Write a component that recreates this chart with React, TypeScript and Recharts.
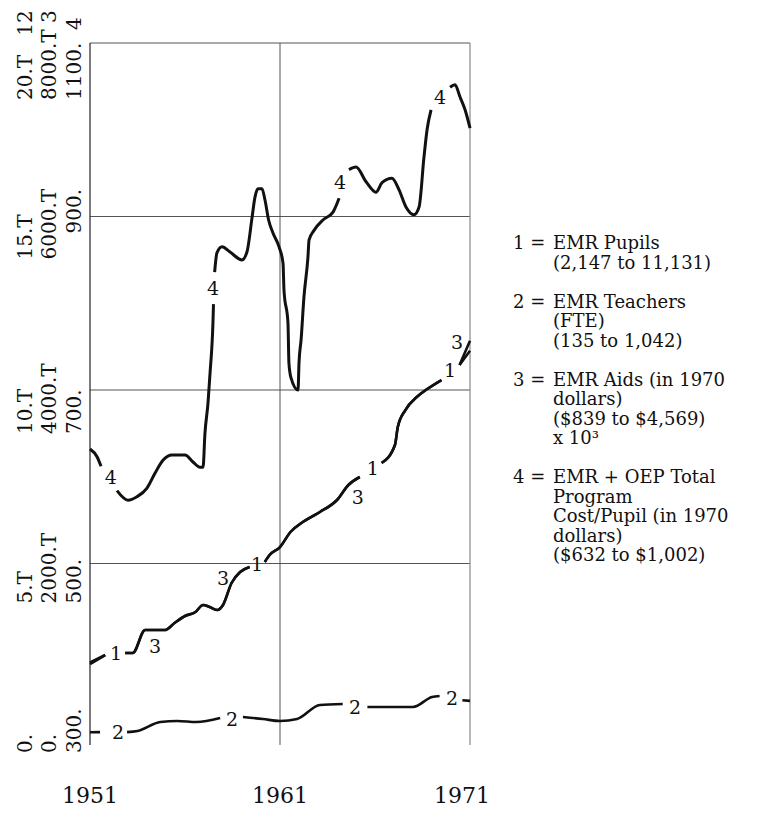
import React from "react";
import {
  ComposedChart,
  Line,
  XAxis,
  YAxis,
  ReferenceLine,
  Scatter,
} from "recharts";

const FONT = "'DejaVu Serif', 'Liberation Serif', serif";

// x axis
const yearTicks = [1951, 1961, 1971];

// left scale: one column of labels per series group
const pupilTicks = [0, 5000, 10000, 15000, 20000];
const pupilTickLabels = ["0.", "5.T", "10.T", "15.T", "20.T   12"];
const aidTickLabels = ["0.", "2000.T", "4000.T", "6000.T", "8000.T 3"];
const costTickLabels = ["300.", "500.", "700.", "900.", "1100.  4"];

// 1 = EMR pupils (nulls leave room for the "1" markers)
const pupils = [
  { year: 1951, value: 2147 },
  { year: 1951.8, value: 2363 },
  { year: 1952.4, value: null },
  { year: 1952.85, value: 2421 },
  { year: 1953.25, value: 2421 },
  { year: 1953.9, value: 3084 },
  { year: 1954.95, value: 3084 },
  { year: 1955.45, value: 3285 },
  { year: 1956.0, value: 3487 },
  { year: 1956.55, value: 3602 },
  { year: 1956.95, value: 3804 },
  { year: 1957.3, value: 3746 },
  { year: 1957.7, value: 3660 },
  { year: 1958.0, value: 3804 },
  { year: 1958.45, value: 4438 },
  { year: 1958.9, value: 4755 },
  { year: 1959.4, value: 4899 },
  { year: 1959.8, value: null },
  { year: 1960.2, value: 5043 },
  { year: 1960.45, value: 5245 },
  { year: 1961.0, value: 5475 },
  { year: 1961.55, value: 5908 },
  { year: 1962.2, value: 6196 },
  { year: 1963.1, value: 6484 },
  { year: 1964.0, value: 6830 },
  { year: 1964.6, value: 7262 },
  { year: 1965.2, value: 7493 },
  { year: 1965.85, value: null },
  { year: 1966.35, value: 7896 },
  { year: 1967.05, value: 8415 },
  { year: 1967.2, value: 8934 },
  { year: 1967.6, value: 9423 },
  { year: 1968.2, value: 9798 },
  { year: 1968.75, value: 10029 },
  { year: 1969.5, value: 10288 },
  { year: 1969.95, value: null },
  { year: 1970.45, value: 10720 },
  { year: 1971, value: 11131 },
];

// 2 = EMR teachers (FTE)
const teachers = [
  { year: 1951, value: 135 },
  { year: 1951.53, value: 140 },
  { year: 1952.45, value: null },
  { year: 1952.95, value: 140 },
  { year: 1953.5, value: 173 },
  { year: 1954.7, value: 432 },
  { year: 1955.6, value: 461 },
  { year: 1956.6, value: 432 },
  { year: 1957.85, value: 548 },
  { year: 1958.45, value: null },
  { year: 1959.05, value: 576 },
  { year: 1960.1, value: 519 },
  { year: 1961.0, value: 461 },
  { year: 1961.9, value: 519 },
  { year: 1963.1, value: 922 },
  { year: 1964.3, value: 951 },
  { year: 1964.95, value: null },
  { year: 1965.6, value: 865 },
  { year: 1968.0, value: 865 },
  { year: 1969.0, value: 1153 },
  { year: 1969.4, value: 1182 },
  { year: 1970.05, value: null },
  { year: 1970.6, value: 1060 },
  { year: 1971, value: 1042 },
];

// 3 = EMR aids, thousands of 1970 dollars
const aids = [
  { year: 1951, value: 839 },
  { year: 1951.8, value: 945 },
  { year: 1952.4, value: null },
  { year: 1952.85, value: 968 },
  { year: 1953.25, value: 968 },
  { year: 1953.9, value: 1233 },
  { year: 1954.95, value: 1233 },
  { year: 1955.45, value: 1314 },
  { year: 1956.0, value: 1395 },
  { year: 1956.55, value: 1441 },
  { year: 1956.95, value: 1522 },
  { year: 1957.3, value: 1499 },
  { year: 1957.7, value: 1464 },
  { year: 1958.0, value: 1522 },
  { year: 1958.45, value: 1775 },
  { year: 1958.9, value: 1902 },
  { year: 1959.4, value: 1960 },
  { year: 1959.8, value: null },
  { year: 1960.2, value: 2017 },
  { year: 1960.45, value: 2098 },
  { year: 1961.0, value: 2190 },
  { year: 1961.55, value: 2363 },
  { year: 1962.2, value: 2478 },
  { year: 1963.1, value: 2594 },
  { year: 1964.0, value: 2732 },
  { year: 1964.6, value: 2905 },
  { year: 1965.2, value: 2997 },
  { year: 1965.85, value: null },
  { year: 1966.35, value: 3158 },
  { year: 1967.05, value: 3366 },
  { year: 1967.2, value: 3573 },
  { year: 1967.6, value: 3769 },
  { year: 1968.2, value: 3919 },
  { year: 1968.75, value: 4011 },
  { year: 1969.5, value: 4115 },
  { year: 1969.95, value: null },
  { year: 1970.45, value: 4288 },
  { year: 1971, value: 4569 },
];

// 4 = EMR + OEP total program cost per pupil, 1970 dollars
const costPerPupil = [
  { year: 1951, value: 632 },
  { year: 1951.37, value: 623 },
  { year: 1951.58, value: 612 },
  { year: 1952.1, value: null },
  { year: 1952.42, value: 584 },
  { year: 1953.0, value: 573 },
  { year: 1953.47, value: 577 },
  { year: 1954.0, value: 587 },
  { year: 1954.42, value: 604 },
  { year: 1954.84, value: 619 },
  { year: 1955.32, value: 625 },
  { year: 1956.0, value: 625 },
  { year: 1956.42, value: 617 },
  { year: 1956.79, value: 611 },
  { year: 1956.95, value: 611 },
  { year: 1957.05, value: 650 },
  { year: 1957.21, value: 685 },
  { year: 1957.32, value: 720 },
  { year: 1957.47, value: 777 },
  { year: 1957.5, value: 799 },
  { year: 1957.53, value: null },
  { year: 1957.56, value: 836 },
  { year: 1957.68, value: 858 },
  { year: 1957.95, value: 865 },
  { year: 1958.37, value: 859 },
  { year: 1959.0, value: 850 },
  { year: 1959.26, value: 859 },
  { year: 1959.53, value: 899 },
  { year: 1959.68, value: 922 },
  { year: 1959.84, value: 932 },
  { year: 1960.05, value: 932 },
  { year: 1960.21, value: 919 },
  { year: 1960.4, value: 896 },
  { year: 1960.63, value: 881 },
  { year: 1960.95, value: 865 },
  { year: 1961.16, value: 846 },
  { year: 1961.21, value: 815 },
  { year: 1961.42, value: 777 },
  { year: 1961.47, value: 731 },
  { year: 1961.58, value: 714 },
  { year: 1961.95, value: 700 },
  { year: 1962.0, value: 731 },
  { year: 1962.11, value: 758 },
  { year: 1962.26, value: 807 },
  { year: 1962.47, value: 853 },
  { year: 1962.53, value: 873 },
  { year: 1962.79, value: 884 },
  { year: 1963.26, value: 896 },
  { year: 1963.79, value: 905 },
  { year: 1964.11, value: 921 },
  { year: 1964.2, value: null },
  { year: 1964.63, value: 954 },
  { year: 1965.0, value: 957 },
  { year: 1965.53, value: 940 },
  { year: 1966.05, value: 928 },
  { year: 1966.37, value: 939 },
  { year: 1966.89, value: 944 },
  { year: 1967.26, value: 931 },
  { year: 1967.63, value: 911 },
  { year: 1968.05, value: 902 },
  { year: 1968.32, value: 911 },
  { year: 1968.58, value: 969 },
  { year: 1968.74, value: 1000 },
  { year: 1968.95, value: 1023 },
  { year: 1969.4, value: null },
  { year: 1969.95, value: 1049 },
  { year: 1970.21, value: 1052 },
  { year: 1970.47, value: 1038 },
  { year: 1970.74, value: 1023 },
  { year: 1971, value: 1002 },
];

// where the curve numbers sit
const pupilMarks = [
  { year: 1952.37, value: 2421 },
  { year: 1959.79, value: 4985 },
  { year: 1965.89, value: 7752 },
  { year: 1969.95, value: 10576 },
];
const teacherMarks = [
  { year: 1952.47, value: 144 },
  { year: 1958.47, value: 519 },
  { year: 1964.95, value: 865 },
  { year: 1970.05, value: 1124 },
];
const aidMarks = [
  { year: 1954.42, value: 1049 },
  { year: 1958.0, value: 1833 },
  { year: 1965.1, value: 2766 },
  { year: 1970.32, value: 4553 },
];
const costMarks = [
  { year: 1952.1, value: 600 },
  { year: 1957.47, value: 818 },
  { year: 1964.16, value: 940 },
  { year: 1969.42, value: 1038 },
];

const legendItems = [
  { key: "1", lines: ["EMR Pupils", "(2,147 to 11,131)"] },
  { key: "2", lines: ["EMR Teachers", "(FTE)", "(135 to 1,042)"] },
  {
    key: "3",
    lines: ["EMR Aids (in 1970", "dollars)", "($839 to $4,569)", "x 10³"],
  },
  {
    key: "4",
    lines: [
      "EMR + OEP Total",
      "Program",
      "Cost/Pupil (in 1970",
      "dollars)",
      "($632 to $1,002)",
    ],
  },
];

// baseline x of each rotated label column, and how far below the tick each starts
const labelColumns = [32, 56, 81];
const labelStart = [
  [16, 16, 16],
  [40, 40, 40],
  [44, 44, 44],
  [43, 43, 17],
  [57, 57, 57],
];
const yearShift = [0, 0, -8];

const digit = (ch: string) => (props: any) => (
  <text
    x={props.cx}
    y={props.cy}
    textAnchor="middle"
    dominantBaseline="central"
    fontFamily={FONT}
    fontSize={19}
    fill="#111"
  >
    {ch}
  </text>
);

const LeftTick = (props: any) => {
  const { y, index } = props;
  const cols = [pupilTickLabels, aidTickLabels, costTickLabels];
  return (
    <g>
      {cols.map((labels, c) => (
        <text
          key={c}
          transform={`translate(${labelColumns[c]},${y + labelStart[index][c]}) rotate(-90)`}
          textAnchor="start"
          fontFamily={FONT}
          fontSize={20}
          fill="#111"
          style={{ whiteSpace: "pre" }}
        >
          {labels[index]}
        </text>
      ))}
    </g>
  );
};

const YearTick = (props: any) => {
  const { x, y, payload, index } = props;
  return (
    <text
      x={x + yearShift[index]}
      y={y + 66}
      textAnchor="middle"
      fontFamily={FONT}
      fontSize={22}
      fill="#111"
    >
      {payload.value}
    </text>
  );
};

const vertical = (year: number) => [
  { x: year, y: -230 },
  { x: year, y: 20000 },
];

export default function App() {
  return (
    <div
      style={{
        position: "absolute",
        left: 0,
        top: 0,
        width: 770,
        height: 815,
        background: "#fff",
      }}
    >
      <ComposedChart
        width={770}
        height={815}
        margin={{ top: 43, right: 300, bottom: 18, left: 0 }}
      >
        <XAxis
          dataKey="year"
          type="number"
          domain={[1951, 1971]}
          ticks={yearTicks}
          axisLine={false}
          tickLine={false}
          tickSize={0}
          tickMargin={0}
          height={60}
          tick={<YearTick />}
        />
        <YAxis
          yAxisId="a"
          type="number"
          domain={[0, 20000]}
          ticks={pupilTicks}
          width={90}
          axisLine={false}
          tickLine={false}
          tick={<LeftTick />}
        />
        <YAxis yAxisId="b" type="number" domain={[0, 8000]} hide />
        <YAxis yAxisId="c" type="number" domain={[300, 1100]} hide />

        {pupilTicks.slice(1).map((t) => (
          <ReferenceLine
            key={t}
            yAxisId="a"
            y={t}
            stroke="#555"
            strokeWidth={1}
          />
        ))}
        <ReferenceLine
          yAxisId="a"
          segment={vertical(1951)}
          ifOverflow="visible"
          stroke="#222"
          strokeWidth={1.2}
        />
        <ReferenceLine
          yAxisId="a"
          segment={vertical(1961)}
          ifOverflow="visible"
          stroke="#555"
          strokeWidth={1}
        />
        <ReferenceLine
          yAxisId="a"
          segment={vertical(1971)}
          ifOverflow="visible"
          stroke="#888"
          strokeWidth={1.2}
        />

        <Line
          yAxisId="a"
          data={pupils}
          dataKey="value"
          type="monotone"
          stroke="#111"
          strokeWidth={2.6}
          dot={false}
          isAnimationActive={false}
        />
        <Line
          yAxisId="a"
          data={teachers}
          dataKey="value"
          type="monotone"
          stroke="#111"
          strokeWidth={2.6}
          dot={false}
          isAnimationActive={false}
        />
        <Line
          yAxisId="b"
          data={aids}
          dataKey="value"
          type="monotone"
          stroke="#111"
          strokeWidth={2.6}
          dot={false}
          isAnimationActive={false}
        />
        <Line
          yAxisId="c"
          data={costPerPupil}
          dataKey="value"
          type="monotone"
          stroke="#111"
          strokeWidth={3}
          dot={false}
          isAnimationActive={false}
        />

        <Scatter
          yAxisId="a"
          data={pupilMarks}
          dataKey="value"
          shape={digit("1")}
          isAnimationActive={false}
        />
        <Scatter
          yAxisId="a"
          data={teacherMarks}
          dataKey="value"
          shape={digit("2")}
          isAnimationActive={false}
        />
        <Scatter
          yAxisId="b"
          data={aidMarks}
          dataKey="value"
          shape={digit("3")}
          isAnimationActive={false}
        />
        <Scatter
          yAxisId="c"
          data={costMarks}
          dataKey="value"
          shape={digit("4")}
          isAnimationActive={false}
        />
      </ComposedChart>

      <div
        style={{
          position: "absolute",
          left: 513,
          top: 233,
          fontFamily: FONT,
          fontSize: 18,
          lineHeight: "19.5px",
          color: "#111",
          whiteSpace: "nowrap",
        }}
      >
        {legendItems.map((item) => (
          <div key={item.key} style={{ display: "flex", marginBottom: 19.5 }}>
            <div style={{ width: 40 }}>{item.key} =</div>
            <div>
              {item.lines.map((line, i) => (
                <div key={i}>{line}</div>
              ))}
            </div>
          </div>
        ))}
      </div>
    </div>
  );
}
